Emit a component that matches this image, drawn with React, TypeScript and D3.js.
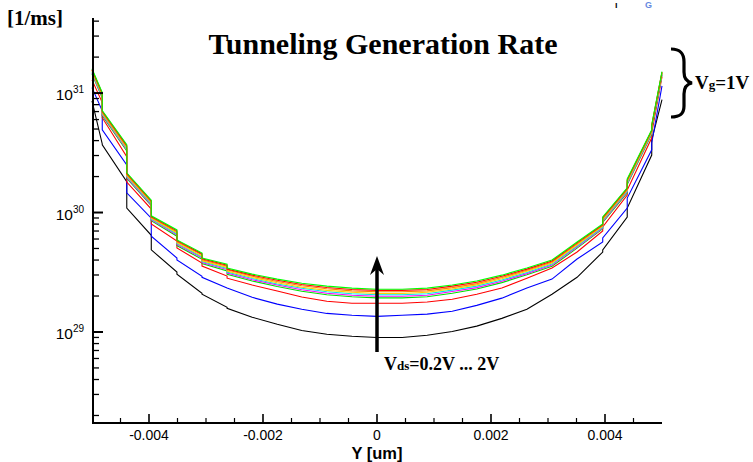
import React from "react";
import * as d3 from "d3";

// Y position along channel [um]
const Y_UM = [-0.005, -0.00482, -0.00482, -0.00439, -0.00439, -0.00396, -0.00396, -0.00351, -0.00351, -0.00307, -0.00307, -0.00263, -0.00263, -0.00219, -0.00175, -0.00132, -0.00088, -0.00044, 0, 0.00044, 0.00088, 0.00132, 0.00175, 0.00219, 0.00263, 0.00307, 0.00351, 0.00396, 0.00396, 0.00439, 0.00439, 0.00482, 0.00482, 0.005];

// Tunneling generation rate [1/ms] for Vds = 0.2V ... 2V (Vg = 1V)
const VDS_0_2 = [8.6e30, 3.75e30, 3.68e30, 1.81e30, 1.09e30, 6.45e29, 4.87e29, 3.17e29, 3.04e29, 2.11e29, 2.07e29, 1.61e29, 1.58e29, 1.33e29, 1.16e29, 1.03e29, 9.56e28, 9.2e28, 9.0e28, 9.0e28, 9.4e28, 1.01e29, 1.12e29, 1.30e29, 1.55e29, 2.07e29, 2.87e29, 4.67e29, 4.87e29, 9.16e29, 1.09e30, 3.03e30, 4.05e30, 8.8e30];
const VDS_0_4 = [1.11e31, 7.1e30, 4.92e30, 2.50e30, 1.46e30, 8.98e29, 6.33e29, 4.16e29, 4.0e29, 2.93e29, 2.87e29, 2.33e29, 2.33e29, 1.95e29, 1.71e29, 1.55e29, 1.43e29, 1.38e29, 1.35e29, 1.38e29, 1.41e29, 1.49e29, 1.67e29, 1.92e29, 2.33e29, 2.77e29, 4.08e29, 5.66e29, 6.12e29, 1.09e30, 1.32e30, 3.35e30, 3.82e30, 1.15e31];
const VDS_0_6 = [1.29e31, 8.32e30, 6.22e30, 2.93e30, 1.80e30, 1.07e30, 8.03e29, 5.78e29, 5.05e29, 3.78e29, 3.56e29, 2.94e29, 2.82e29, 2.47e29, 2.20e29, 1.96e29, 1.81e29, 1.74e29, 1.74e29, 1.74e29, 1.78e29, 1.88e29, 2.07e29, 2.33e29, 2.82e29, 3.43e29, 4.67e29, 7.01e29, 7.58e29, 1.40e30, 1.54e30, 4.22e30, 4.65e30, 1.37e31];
const VDS_0_8 = [1.44e31, 9.07e30, 6.47e30, 3.27e30, 1.93e30, 1.14e30, 8.53e29, 6.34e29, 5.29e29, 4.06e29, 3.74e29, 3.24e29, 3.04e29, 2.67e29, 2.40e29, 2.19e29, 2.05e29, 1.97e29, 1.93e29, 1.93e29, 1.97e29, 2.11e29, 2.29e29, 2.59e29, 3.01e29, 3.55e29, 5.03e29, 7.30e29, 8.26e29, 1.46e30, 1.72e30, 4.54e30, 5.00e30, 1.42e31];
const VDS_1_0 = [1.47e31, 9.26e30, 6.59e30, 3.35e30, 1.97e30, 1.16e30, 8.69e29, 6.49e29, 5.40e29, 4.16e29, 3.81e29, 3.33e29, 3.11e29, 2.74e29, 2.47e29, 2.26e29, 2.11e29, 2.03e29, 1.99e29, 1.99e29, 2.03e29, 2.18e29, 2.35e29, 2.66e29, 3.08e29, 3.63e29, 5.15e29, 7.44e29, 8.44e29, 1.49e30, 1.75e30, 4.61e30, 5.08e30, 1.44e31];
const VDS_1_2 = [1.49e31, 9.42e30, 6.69e30, 3.42e30, 2.01e30, 1.18e30, 8.82e29, 6.62e29, 5.50e29, 4.24e29, 3.88e29, 3.40e29, 3.18e29, 2.80e29, 2.52e29, 2.32e29, 2.17e29, 2.09e29, 2.05e29, 2.05e29, 2.09e29, 2.24e29, 2.42e29, 2.72e29, 3.15e29, 3.70e29, 5.25e29, 7.55e29, 8.58e29, 1.51e30, 1.78e30, 4.67e30, 5.14e30, 1.45e31];
const VDS_1_4 = [1.52e31, 9.58e30, 6.80e30, 3.48e30, 2.04e30, 1.21e30, 8.96e29, 6.75e29, 5.59e29, 4.32e29, 3.95e29, 3.47e29, 3.24e29, 2.86e29, 2.58e29, 2.37e29, 2.23e29, 2.15e29, 2.10e29, 2.10e29, 2.15e29, 2.29e29, 2.48e29, 2.79e29, 3.22e29, 3.78e29, 5.35e29, 7.67e29, 8.73e29, 1.54e30, 1.81e30, 4.73e30, 5.21e30, 1.47e31];
const VDS_1_6 = [1.55e31, 9.77e30, 6.91e30, 3.56e30, 2.08e30, 1.23e30, 9.11e29, 6.89e29, 5.70e29, 4.42e29, 4.02e29, 3.55e29, 3.31e29, 2.93e29, 2.65e29, 2.44e29, 2.30e29, 2.21e29, 2.17e29, 2.17e29, 2.21e29, 2.35e29, 2.54e29, 2.86e29, 3.29e29, 3.86e29, 5.47e29, 7.80e29, 8.90e29, 1.56e30, 1.85e30, 4.81e30, 5.29e30, 1.48e31];
const VDS_1_8 = [1.57e31, 9.94e30, 7.02e30, 3.63e30, 2.12e30, 1.25e30, 9.25e29, 7.03e29, 5.80e29, 4.50e29, 4.09e29, 3.63e29, 3.37e29, 2.99e29, 2.71e29, 2.50e29, 2.36e29, 2.27e29, 2.23e29, 2.23e29, 2.27e29, 2.42e29, 2.61e29, 2.93e29, 3.36e29, 3.93e29, 5.57e29, 7.92e29, 9.05e29, 1.59e30, 1.88e30, 4.87e30, 5.36e30, 1.50e31];
const VDS_2_0 = [1.60e31, 1.01e31, 7.12e30, 3.69e30, 2.15e30, 1.27e30, 9.38e29, 7.15e29, 5.89e29, 4.58e29, 4.16e29, 3.70e29, 3.43e29, 3.05e29, 2.77e29, 2.56e29, 2.42e29, 2.33e29, 2.28e29, 2.28e29, 2.33e29, 2.47e29, 2.67e29, 2.99e29, 3.43e29, 4.00e29, 5.67e29, 8.03e29, 9.20e29, 1.61e30, 1.91e30, 4.93e30, 5.43e30, 1.51e31];

const SERIES = [VDS_0_2, VDS_0_4, VDS_0_6, VDS_0_8, VDS_1_0, VDS_1_2, VDS_1_4, VDS_1_6, VDS_1_8, VDS_2_0];

const X_TICKS = [-0.004, -0.002, 0, 0.002, 0.004];
const X_TICK_LABELS = ["-0.004", "-0.002", "0", "0.002", "0.004"];
const Y_DECADES = [29, 30, 31];

const TITLE = "Tunneling Generation Rate";
const Y_UNIT = "[1/ms]";
const X_TITLE = "Y [um]";

// styles (kept apart from the data)
const COLORS = ["#000000", "#0000ff", "#ff0000", "#00e000", "#ff00ff", "#00e8e8", "#ffd000", "#ff8000", "#ff0000", "#00ff00"];

const W = 753;
const H = 462;
const X_DOMAIN = [-0.005, 0.005];
const Y_DOMAIN = [1.73e28, 4.25e31];

export default function App() {
  const x = d3.scaleLinear().domain(X_DOMAIN).range([92, 662]);
  const y = d3.scaleLog().domain(Y_DOMAIN).range([423, 18]);
  const line = d3
    .line<number>()
    .x((_, i) => x(Y_UM[i]))
    .y((v) => y(v));

  const axisX = 93;
  const axisY = 423;

  const xMinor: number[] = [];
  for (let k = -9; k <= 9; k++) {
    const v = k * 0.0005;
    if (k % 4 !== 0) xMinor.push(v);
  }

  const yMinor: number[] = [];
  for (let e = 28; e <= 31; e++) {
    for (let m = 2; m <= 9; m++) {
      const v = m * Math.pow(10, e);
      if (v > Y_DOMAIN[0] && v < Y_DOMAIN[1]) yMinor.push(v);
    }
  }

  const serif = "'Liberation Serif', 'Times New Roman', serif";
  const sans = "'Liberation Sans', Arial, sans-serif";

  return (
    <svg
      width={W}
      height={H}
      viewBox={`0 0 ${W} ${H}`}
      style={{ position: "absolute", left: 0, top: 0, background: "#fff" }}
    >
      <rect x={0} y={0} width={W} height={H} fill="#fff" />

      {/* curves */}
      <g fill="none">
        {SERIES.map((s, i) => (
          <path key={i} d={line(s) || ""} stroke={COLORS[i]} strokeWidth={1.1} />
        ))}
      </g>

      {/* axes */}
      <line x1={axisX} x2={axisX} y1={18} y2={axisY + 1} stroke="#000" strokeWidth={2} />
      <line x1={axisX - 1} x2={662} y1={axisY} y2={axisY} stroke="#000" strokeWidth={2} />

      {Y_DECADES.map((e) => (
        <line key={"yM" + e} x1={axisX} x2={axisX + 10} y1={y(Math.pow(10, e))} y2={y(Math.pow(10, e))} stroke="#000" strokeWidth={2} />
      ))}
      {yMinor.map((v, i) => (
        <line key={"ym" + i} x1={axisX} x2={axisX + 6} y1={y(v)} y2={y(v)} stroke="#000" strokeWidth={1.3} />
      ))}
      {X_TICKS.map((v) => (
        <line key={"xM" + v} x1={x(v)} x2={x(v)} y1={axisY} y2={axisY - 9} stroke="#000" strokeWidth={1.6} />
      ))}
      {xMinor.map((v, i) => (
        <line key={"xm" + i} x1={x(v)} x2={x(v)} y1={axisY} y2={axisY - 5} stroke="#000" strokeWidth={1.2} />
      ))}

      {/* tick labels */}
      {X_TICKS.map((v, i) => (
        <text key={"xl" + i} x={x(v)} y={440} textAnchor="middle" fontFamily={sans} fontSize={14} fill="#000">
          {X_TICK_LABELS[i]}
        </text>
      ))}
      {Y_DECADES.map((e) => (
        <text key={"yl" + e} x={84} y={y(Math.pow(10, e)) + 7} textAnchor="end" fontFamily={sans} fontSize={15.5} fill="#000">
          10
          <tspan fontSize={10} dy={-7}>{String(e)}</tspan>
        </text>
      ))}

      {/* titles */}
      <text x={377} y={459} textAnchor="middle" fontFamily={sans} fontWeight="bold" fontSize={16.5} fill="#000">
        {X_TITLE}
      </text>
      <text x={7} y={25} fontFamily={serif} fontWeight="bold" fontSize={21} fill="#000">
        {Y_UNIT}
      </text>
      <text x={383} y={54} textAnchor="middle" fontFamily={serif} fontWeight="bold" fontSize={30} fill="#000">
        {TITLE}
      </text>

      {/* top-right stray marks */}
      <text x={615} y={8} fontFamily={sans} fontWeight="bold" fontSize={9} fill="#000">ı</text>
      <text x={645} y={8} fontFamily={sans} fontWeight="bold" fontSize={9} fill="#6688e0">G</text>

      {/* brace + Vg label */}
      <path
        d="M 671 49 C 680 49, 684 53, 684 62 L 684 72 C 684 79, 687 82, 692 83 C 687 84, 684 87, 684 94 L 684 106 C 684 114, 680 117, 671 117"
        fill="none"
        stroke="#000"
        strokeWidth={3.2}
      />
      <text x={695} y={89} fontFamily={serif} fontWeight="bold" fontSize={19} fill="#000">
        V<tspan fontSize={13}>g</tspan>=1V
      </text>

      {/* arrow + Vds label */}
      <line x1={377} x2={377} y1={352} y2={266} stroke="#000" strokeWidth={3.5} />
      <path d="M 377 256 L 384 275 L 377 269 L 370 275 Z" fill="#000" />
      <text x={384} y={370} fontFamily={serif} fontWeight="bold" fontSize={18} fill="#000">
        V<tspan fontSize={13}>ds</tspan>=0.2V ... 2V
      </text>
    </svg>
  );
}
